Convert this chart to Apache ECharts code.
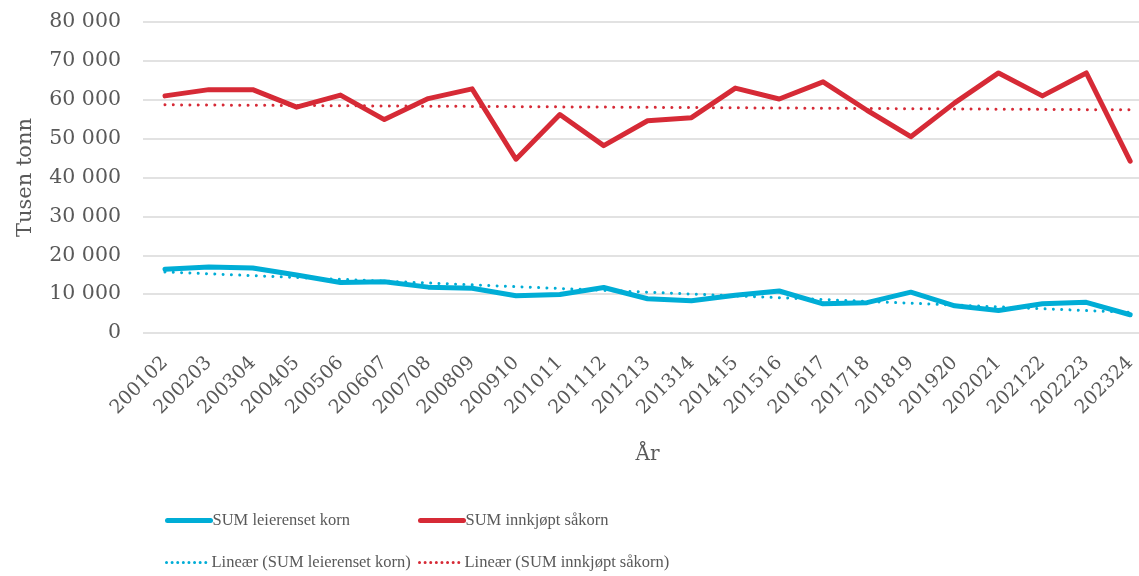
<!DOCTYPE html>
<html>
<head>
<meta charset="utf-8">
<script src="https://cdn.jsdelivr.net/npm/echarts@6/dist/echarts.min.js"></script>
<style>html,body{margin:0;padding:0;background:#fff}#c{width:1139px;height:576px}</style>
</head>
<body>
<div id="c"></div>
<script>
const categories = ['200102','200203','200304','200405','200506','200607','200708','200809','200910','201011','201112','201213','201314','201415','201516','201617','201718','201819','201920','202021','202122','202223','202324'];
const leierensetKorn = [16400,17000,16700,14900,13000,13200,11800,11500,9600,9900,11700,8800,8300,9700,10800,7500,7800,10500,7000,5800,7500,7900,4700];
const innkjoptSakorn = [61000,62600,62600,58100,61200,54900,60300,62800,44700,56200,48200,54600,55400,63000,60200,64600,57300,50500,59200,66900,61000,66900,44200];
// Trend line endpoints (first and last category)
const trendLeierenset = [15700, 5300];
const trendInnkjopt = [58700, 57400];
const yTicks = {min: 0, max: 80000, interval: 10000};

const txt = '#595959';
const serif = 'DejaVu Serif';
const legendFont = 'Liberation Serif';
const blue = '#00ADD6';
const red = '#D62A36';
const last = categories.length - 1;

const chart = echarts.init(document.getElementById('c'));
const legendBase = {
  orient: 'horizontal', itemWidth: 43, itemHeight: 14, itemGap: 0, padding: 0,
  itemStyle: {opacity: 0},
  textStyle: {fontFamily: legendFont, fontSize: 16.5, color: txt, padding: [0,0,0,-3]}
};
const solidLeg = {width: 5, cap: 'round'};
const dotLeg = {width: 3, type: [0.01, 5.6], cap: 'round'};
chart.setOption({
  animation: false,
  grid: [
    {left: 143, right: 0, top: 22, bottom: 243, containLabel: false},
    {left: 165, right: 8, top: 22, bottom: 243, containLabel: false}
  ],
  xAxis: [
    {type: 'value', gridIndex: 0, show: false, min: 0, max: 1},
    {
      type: 'category', gridIndex: 1, data: categories, boundaryGap: false,
      name: 'År', nameLocation: 'middle', nameGap: 112,
      nameTextStyle: {fontFamily: serif, fontSize: 20, color: txt},
      axisLine: {show: false}, axisTick: {show: false}, splitLine: {show: false},
      axisLabel: {rotate: 45, margin: 27, interval: 0, fontFamily: serif, fontSize: 19, color: txt}
    }
  ],
  yAxis: [
    {
      type: 'value', gridIndex: 0, min: yTicks.min, max: yTicks.max, interval: yTicks.interval,
      name: 'Tusen tonn', nameLocation: 'middle', nameGap: 107, nameRotate: 90,
      nameTextStyle: {fontFamily: serif, fontSize: 21, color: txt},
      axisLine: {show: false}, axisTick: {show: false},
      axisLabel: {margin: 22, fontFamily: serif, fontSize: 20.5, color: txt,
        formatter: v => String(v).replace(/\B(?=(\d{3})+(?!\d))/g, ' ')},
      splitLine: {lineStyle: {color: '#D9D9D9', width: 1.5}}
    },
    {
      type: 'value', gridIndex: 1, min: yTicks.min, max: yTicks.max, interval: yTicks.interval,
      show: false, splitLine: {show: false}
    }
  ],
  legend: [
    Object.assign({}, legendBase, {left: 165, top: 512, lineStyle: solidLeg, data: ['SUM leierenset korn']}),
    Object.assign({}, legendBase, {left: 418, top: 512, lineStyle: solidLeg, data: ['SUM innkjøpt såkorn']}),
    Object.assign({}, legendBase, {left: 165, top: 554, lineStyle: dotLeg, data: ['Lineær (SUM leierenset korn)']}),
    Object.assign({}, legendBase, {left: 418, top: 554, lineStyle: dotLeg, data: ['Lineær (SUM innkjøpt såkorn)']})
  ],
  series: [
    {name: 'Lineær (SUM leierenset korn)', type: 'line', xAxisIndex: 1, yAxisIndex: 1, symbol: 'none', z: 3,
     data: [[0, trendLeierenset[0]], [last, trendLeierenset[1]]],
     lineStyle: {color: blue, width: 3, type: [0.01, 8.3], cap: 'round'}, itemStyle: {color: blue}},
    {name: 'Lineær (SUM innkjøpt såkorn)', type: 'line', xAxisIndex: 1, yAxisIndex: 1, symbol: 'none', z: 3,
     data: [[0, trendInnkjopt[0]], [last, trendInnkjopt[1]]],
     lineStyle: {color: red, width: 3, type: [0.01, 8.3], cap: 'round'}, itemStyle: {color: red}},
    {name: 'SUM leierenset korn', type: 'line', xAxisIndex: 1, yAxisIndex: 1, symbol: 'none', z: 2, data: leierensetKorn,
     lineStyle: {color: blue, width: 5, cap: 'round', join: 'round'}, itemStyle: {color: blue}},
    {name: 'SUM innkjøpt såkorn', type: 'line', xAxisIndex: 1, yAxisIndex: 1, symbol: 'none', z: 2, data: innkjoptSakorn,
     lineStyle: {color: red, width: 5, cap: 'round', join: 'round'}, itemStyle: {color: red}}
  ]
});
</script>
</body>
</html>
